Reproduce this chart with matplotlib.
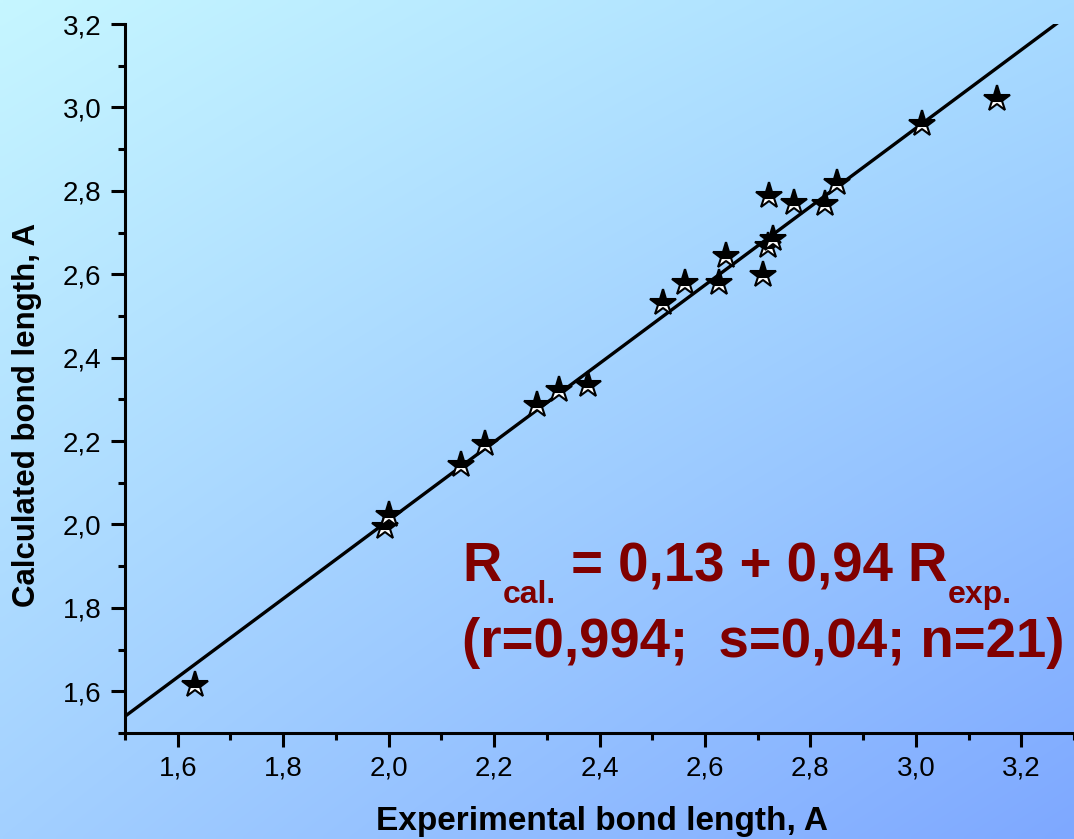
import numpy as np
import matplotlib
matplotlib.use("Agg")
import matplotlib.pyplot as plt
from matplotlib.ticker import MultipleLocator, FuncFormatter

plt.rcParams['font.family'] = ['Liberation Sans', 'DejaVu Sans']

# Data (experimental vs calculated bond lengths, A)
r_exp = [1.632, 1.993, 2.000, 2.138, 2.183, 2.281, 2.324, 2.379, 2.521, 2.563,
         2.626, 2.640, 2.711, 2.720, 2.730, 2.721, 2.769, 2.828, 2.851, 3.012, 3.154]
r_cal = [1.614, 1.994, 2.022, 2.142, 2.194, 2.286, 2.323, 2.334, 2.530, 2.578,
         2.578, 2.643, 2.598, 2.667, 2.684, 2.787, 2.771, 2.768, 2.818, 2.960, 3.020]
fit_intercept = 0.13
fit_slope = 0.94
x_range = [1.5, 3.3]
y_range = [1.5, 3.2]

W, H = 1074, 839
fig = plt.figure(figsize=(W / 100, H / 100), dpi=100)

# gradient background
bg = fig.add_axes([0, 0, 1, 1], zorder=-10)
tl = np.array([198, 246, 255]) / 255
tr = np.array([168, 219, 255]) / 255
bl = np.array([163, 208, 255]) / 255
br = np.array([126, 168, 255]) / 255
u = np.linspace(0, 1, 200)[None, :, None]
v = np.linspace(0, 1, 160)[:, None, None]
img = (1 - v) * ((1 - u) * tl + u * tr) + v * ((1 - u) * bl + u * br)
bg.imshow(img, aspect='auto', extent=[0, 1, 0, 1], interpolation='bilinear')
bg.set_axis_off()

left = 125 / W
right = 1074 / W
bottom = (H - 733) / H
top = (H - 24) / H
ax = fig.add_axes([left, bottom, right - left, top - bottom])
ax.set_facecolor('none')

xl = np.array(x_range)
ax.plot(xl, fit_intercept + fit_slope * xl, color='black', lw=2.4, zorder=2)

ax.plot(r_exp, r_cal, linestyle='none', marker='*', markersize=19.5,
        fillstyle='top', markerfacecolor='black', markerfacecoloralt='white',
        markeredgecolor='black', markeredgewidth=1.5, zorder=3)

ax.set_xlim(*x_range)
ax.set_ylim(*y_range)

for s in ['top', 'right']:
    ax.spines[s].set_visible(False)
for s in ['left', 'bottom']:
    ax.spines[s].set_linewidth(2.2)

ax.xaxis.set_major_locator(MultipleLocator(0.2))
ax.xaxis.set_minor_locator(MultipleLocator(0.1))
ax.yaxis.set_major_locator(MultipleLocator(0.2))
ax.yaxis.set_minor_locator(MultipleLocator(0.1))
fmt = FuncFormatter(lambda v, p: f"{v:.1f}".replace('.', ','))
ax.xaxis.set_major_formatter(fmt)
ax.yaxis.set_major_formatter(fmt)
ax.tick_params(which='major', direction='out', length=10, width=2.2, labelsize=20, pad=6)
ax.tick_params(which='minor', direction='out', length=5, width=2.2)
ax.tick_params(axis='y', which='major', pad=7)

ax.set_xlabel('Experimental bond length, A', fontsize=24, fontweight='bold')
ax.set_ylabel('Calculated bond length, A', fontsize=22.5, fontweight='bold')
ax.xaxis.set_label_coords(0.5026, -0.103)
ax.yaxis.set_label_coords(-0.0875, 0.4485)

# equation text, built from pieces
red = '#800000'
fig.canvas.draw()
rend = fig.canvas.get_renderer()

def put(x_px, y_px, s, size):
    t = fig.text(x_px / W, (H - y_px) / H, s, fontsize=size, fontweight='bold',
                 color=red, ha='left', va='baseline')
    bb = t.get_window_extent(rend)
    return bb.x1

base1 = 581
x = put(462, base1, 'R', 39.3)
x = put(x + 1, base1 + 22, 'cal.', 23)
x = put(x, base1, ' = 0,13 + 0,94 R', 39.3)
x = put(x + 1, base1 + 22, 'exp.', 23)
put(462, 657, '(r=0,994;  s=0,04; n=21)', 39.3)

fig.savefig('out.png', dpi=100)
